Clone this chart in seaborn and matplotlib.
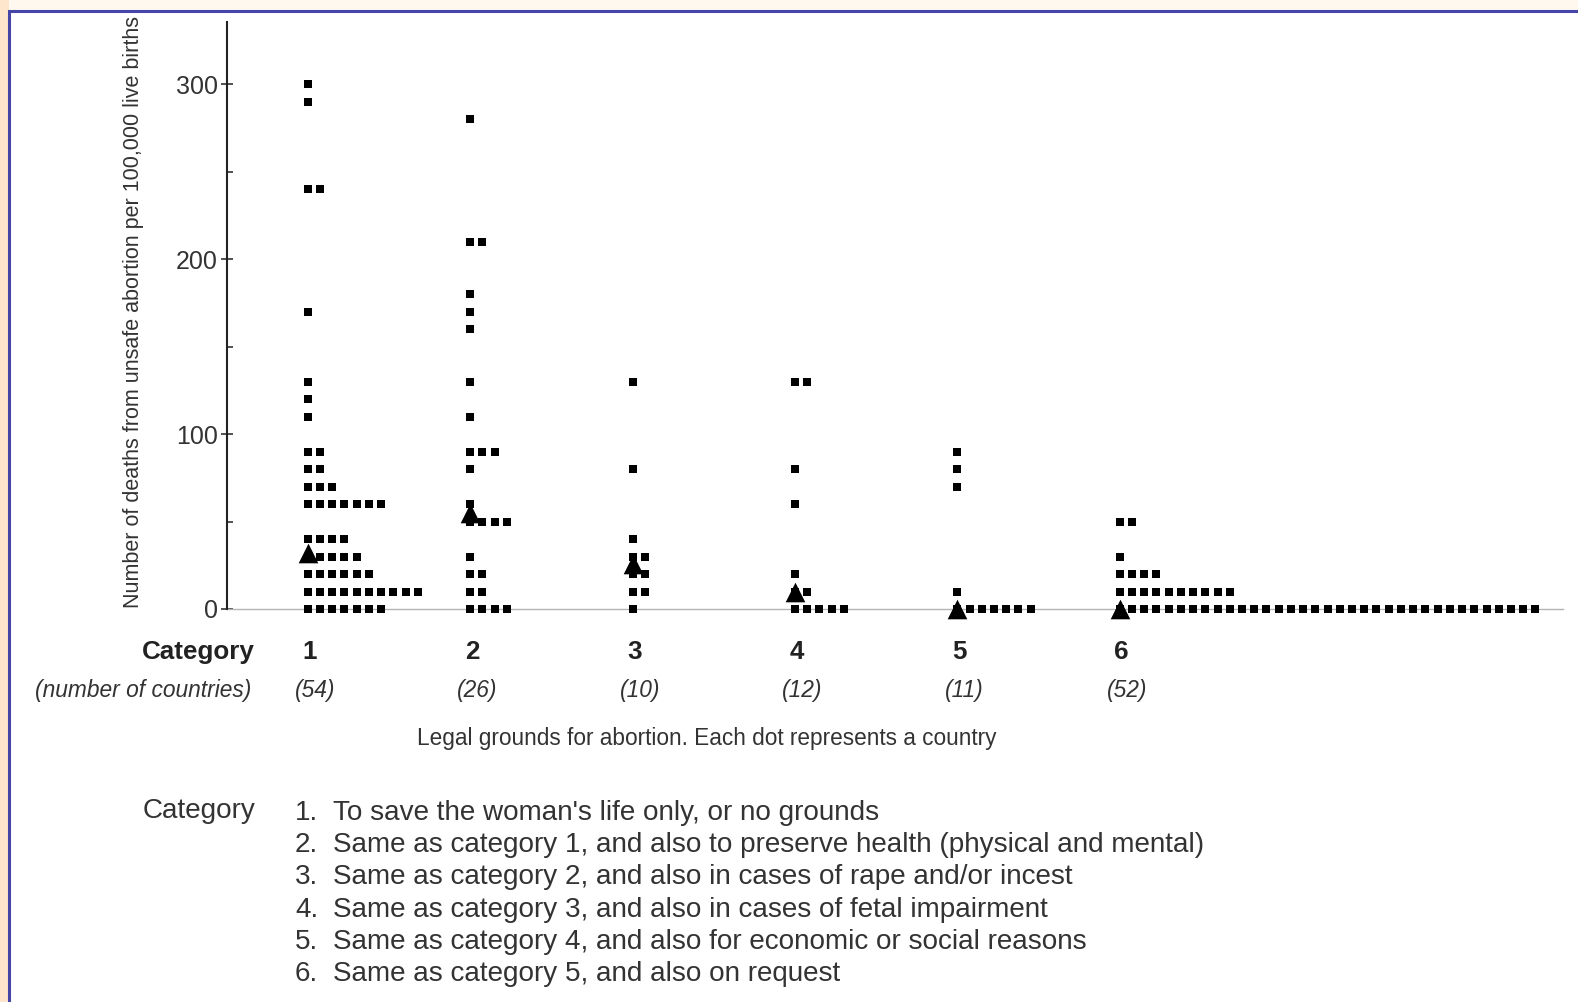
import numpy as np
import pandas as pd
import matplotlib
matplotlib.use("Agg")
import matplotlib.pyplot as plt
import matplotlib.patches as mpatches
import matplotlib.transforms as mtrans
import seaborn as sns

# ---------------- data ----------------
categories = [1, 2, 3, 4, 5, 6]
n_countries = ["(54)", "(26)", "(10)", "(12)", "(11)", "(52)"]

cat1_values = [300, 290, 240, 170, 130, 120, 110, 90, 80, 70, 60, 40, 30, 20, 10, 0]
cat1_counts = [1, 1, 2, 1, 1, 1, 1, 2, 2, 3, 7, 4, 5, 6, 10, 7]
cat2_values = [280, 210, 180, 170, 160, 130, 110, 90, 80, 60, 50, 30, 20, 10, 0]
cat2_counts = [1, 2, 1, 1, 1, 1, 1, 3, 1, 1, 4, 1, 2, 2, 4]
cat3_values = [130, 80, 40, 30, 20, 10, 0]
cat3_counts = [1, 1, 1, 2, 2, 2, 1]
cat4_values = [130, 80, 60, 20, 10, 0]
cat4_counts = [2, 1, 1, 1, 2, 5]
cat5_values = [90, 80, 70, 10, 0]
cat5_counts = [1, 1, 1, 1, 7]
cat6_values = [50, 30, 20, 10, 0]
cat6_counts = [2, 1, 4, 10, 35]

medians = [32, 55, 26, 10, 0, 0]

y_ticks = [0, 100, 200, 300]
y_minor = [50, 150, 250]

y_label = "Number of deaths from unsafe abortion per 100,000 live births"
x_caption = "Legal grounds for abortion. Each dot represents a country"
legend_lines = [
    "To save the woman's life only, or no grounds",
    "Same as category 1, and also to preserve health (physical and mental)",
    "Same as category 2, and also in cases of rape and/or incest",
    "Same as category 3, and also in cases of fetal impairment",
    "Same as category 4, and also for economic or social reasons",
    "Same as category 5, and also on request",
]

# ---------------- build dot table ----------------
step = 0.0753  # horizontal spacing of stacked dots (data units)
rows = []
all_vals = [cat1_values, cat2_values, cat3_values, cat4_values, cat5_values, cat6_values]
all_cnts = [cat1_counts, cat2_counts, cat3_counts, cat4_counts, cat5_counts, cat6_counts]
for c, vals, cnts in zip(categories, all_vals, all_cnts):
    for v, n in zip(vals, cnts):
        for k in range(n):
            rows.append({"category": c, "x": c + k * step, "deaths": v})
dots = pd.DataFrame(rows)
med_df = pd.DataFrame({"x": categories, "deaths": medians})

# ---------------- figure ----------------
sns.set_theme(style="white")
plt.rcParams["font.family"] = ["Liberation Sans", "DejaVu Sans"]

W, H = 1578, 1002
fig = plt.figure(figsize=(W / 100, H / 100), dpi=100)
fig.patch.set_facecolor("#fef8ee")

def fx(px):
    return px / W

def fy(py):
    return 1 - py / H

# left peach strip and white panel with blue border
fig.patches.append(mpatches.Rectangle((0, 0), fx(9), 1, transform=fig.transFigure,
                                      facecolor="#fde6cc", edgecolor="none", zorder=-2))
fig.patches.append(mpatches.Rectangle((fx(9), -0.01), 1.02, fy(11) + 0.01,
                                      transform=fig.transFigure, facecolor="white",
                                      edgecolor="#4646a8", linewidth=2.2, zorder=-1))

ax_l, ax_r = 226.7, 1563
ax_t, ax_b = 22, 609
ax = fig.add_axes([fx(ax_l), fy(ax_b), fx(ax_r) - fx(ax_l), fy(ax_t) - fy(ax_b)])
ax.set_facecolor("none")

sns.scatterplot(data=dots, x="x", y="deaths", marker="s", s=40, color="black",
                linewidth=0, ax=ax, clip_on=False, legend=False, zorder=3)
sns.scatterplot(data=med_df, x="x", y="deaths", marker="^", s=200, color="black",
                linewidth=0, ax=ax, clip_on=False, legend=False, zorder=4)

ax.set_xlim(0.501, 8.73)
ax.set_ylim(0, 335.6)
ax.set_xlabel("")
ax.set_ylabel("")
ax.set_xticks([])
ax.set_yticks(y_ticks)
ax.set_yticks(y_minor, minor=True)
ax.set_yticklabels([str(t) for t in y_ticks], fontsize=18)
ax.tick_params(axis="y", which="major", direction="inout", length=8.6, width=1.1,
               color="#222222", pad=2, labelcolor="#333333", left=True)
ax.tick_params(axis="y", which="minor", direction="in", length=4.3, width=1.1,
               color="#222222", left=True)
for s in ["top", "right"]:
    ax.spines[s].set_visible(False)
ax.spines["left"].set_color("#222222")
ax.spines["left"].set_linewidth(1.5)
ax.spines["bottom"].set_color("#b5b5b5")
ax.spines["bottom"].set_linewidth(1.0)
ax.spines["bottom"].set_zorder(1)

# y label
fig.text(fx(134), fy(312), y_label, rotation=90, ha="center", va="center",
         fontsize=15.5, color="#333333")

# category labels
blend = mtrans.blended_transform_factory(ax.transData, fig.transFigure)
fig.text(fx(254.6), fy(652), "Category", ha="right", va="center", fontsize=18.7,
         fontweight="bold", color="#222222")
fig.text(fx(251.6), fy(690), "(number of countries)", ha="right", va="center",
         fontsize=16.4, fontstyle="italic", color="#333333")
for c, n in zip(categories, n_countries):
    ax.text(c + 0.012, fy(652), str(c), transform=blend, ha="center", va="center",
            fontsize=18.7, fontweight="bold", color="#222222")
    ax.text(c + 0.045, fy(690), n, transform=blend, ha="center", va="center",
            fontsize=16.4, fontstyle="italic", color="#333333")

fig.text(fx(706.5), fy(738.7), x_caption, ha="center", va="center", fontsize=16.3,
         color="#333333")

# legend block
fig.text(fx(255.6), fy(811), "Category", ha="right", va="center", fontsize=20.1,
         color="#333333")
for i, line in enumerate(legend_lines):
    yy = 813 + i * 32.2
    fig.text(fx(295), fy(yy), f"{i + 1}.", ha="left", va="center", fontsize=20.1,
             color="#333333")
    fig.text(fx(333), fy(yy), line, ha="left", va="center", fontsize=20.1,
             color="#333333")

fig.savefig("out.png", dpi=100, facecolor=fig.get_facecolor())
